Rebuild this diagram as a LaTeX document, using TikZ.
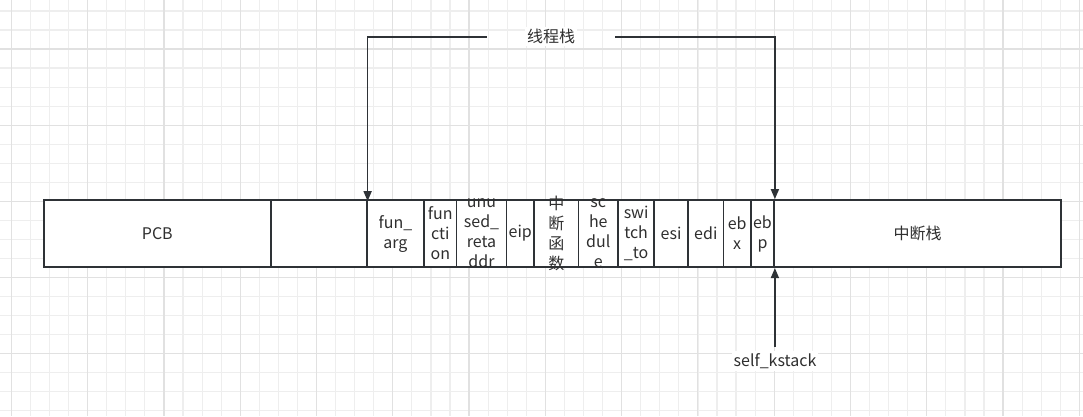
\documentclass[tikz,border=0pt]{standalone}
\usepackage{fontspec}
\setmainfont{Noto Sans CJK SC}
\usetikzlibrary{arrows.meta}
\definecolor{linec}{HTML}{2E3236}
\definecolor{txtc}{HTML}{2F2F2F}
\definecolor{gridminor}{HTML}{EEEEEE}
\definecolor{gridmajor}{HTML}{E1E1E1}
\begin{document}
\begin{tikzpicture}[x=1pt,y=-1pt,
  cellbox/.style={draw=linec, fill=white, line width=1.6pt, minimum height=67.3pt, inner sep=0pt, anchor=west},
  celltxt/.style={text=txtc, align=center, inner sep=0pt, font=\fontsize{16}{20}\selectfont},
  lblbox/.style={inner sep=0pt},
  lbltxt/.style={text=txtc, fill=white, inner sep=2pt, font=\fontsize{16}{20}\selectfont},
  arr/.style={draw=linec, line width=1.6pt, -{Triangle[length=10pt,width=8pt]}},
]
\useasboundingbox (0,0) rectangle (1083,416);
\fill[white] (0,0) rectangle (1083,416);
% grid
\foreach \i in {0,...,56} {\draw[gridminor, line width=1.2pt] ({11.4+19.07*\i},0) -- ({11.4+19.07*\i},416);}
\foreach \i in {0,...,21} {\draw[gridminor, line width=1.2pt] (0,{11+19.03*\i}) -- (1083,{11+19.03*\i});}
\foreach \i in {0,...,14} {\draw[gridmajor, line width=1.2pt] ({11.4+76.27*\i},0) -- ({11.4+76.27*\i},416);}
\foreach \i in {0,...,4} {\draw[gridmajor, line width=1.2pt] (0,{49+76.1*\i}) -- (1083,{49+76.1*\i});}

% cells
\node[cellbox, minimum width=227pt] (pcb) at (43,233.6) {};
\node[cellbox, minimum width=96pt] (gap) at (270,233.6) {};
\node[cellbox, minimum width=57.3pt] (farg) at (366,233.6) {};
\node[cellbox, minimum width=32.4pt] (func) at (423.3,233.6) {};
\node[cellbox, minimum width=50pt] (unused) at (455.7,233.6) {};
\node[cellbox, minimum width=27.6pt] (eip) at (505.7,233.6) {};
\node[cellbox, minimum width=44.4pt] (zdhs) at (533.3,233.6) {};
\node[cellbox, minimum width=39.6pt] (sch) at (577.7,233.6) {};
\node[cellbox, minimum width=36pt] (sw) at (617.3,233.6) {};
\node[cellbox, minimum width=34pt] (esi) at (653.3,233.6) {};
\node[cellbox, minimum width=35.4pt] (edi) at (687.3,233.6) {};
\node[cellbox, minimum width=27.3pt] (ebx) at (722.7,233.6) {};
\node[cellbox, minimum width=23.3pt] (ebp) at (750,233.6) {};
\node[cellbox, minimum width=287pt] (zds) at (773.3,233.6) {};

% cell texts
\node[celltxt] (tpcb) at (pcb.center) {PCB};
\node[celltxt] (tfarg) at (farg.center) {fun\_\\arg};
\node[celltxt] (tfunc) at (func.center) {fun\\cti\\on};
\node[celltxt] (tunused) at (unused.center) {unu\\sed\_\\reta\\ddr};
\node[celltxt] (teip) at (eip.center) {eip};
\node[celltxt] (tzdhs) at (zdhs.center) {中\\断\\函\\数};
\node[celltxt] (tsch) at (sch.center) {sc\\he\\dul\\e};
\node[celltxt] (tsw) at (sw.center) {swi\\tch\\\_to};
\node[celltxt] (tesi) at (esi.center) {esi};
\node[celltxt] (tedi) at (edi.center) {edi};
\node[celltxt] (tebx) at (ebx.center) {eb\\x};
\node[celltxt] (tebp) at (ebp.center) {eb\\p};
\node[celltxt] (tzds) at (zds.center) {中断栈};

% labels
\node[lblbox, minimum width=128pt, minimum height=20pt] (xcz) at (551,36.7) {};
\node[lbltxt] (xczt) at (xcz.center) {线程栈};
\node[lblbox, minimum width=90pt, minimum height=28pt] (sk) at (775,361) {};
\node[lbltxt] (skt) at (sk.center) {self\_kstack};

% connectors
\draw[arr] (xcz.west) -| ([yshift=-2pt]gap.north east);
\draw[arr] (xcz.east) -| (ebp.north east);
\draw[arr] (sk.north -| ebp.east) -- (ebp.south east);
\end{tikzpicture}
\end{document}
